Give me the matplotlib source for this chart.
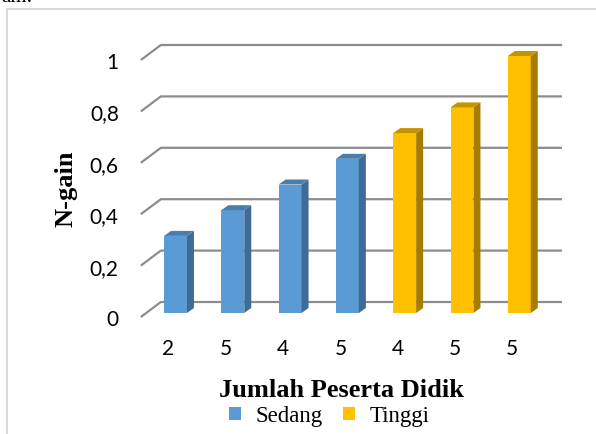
import matplotlib
matplotlib.use('Agg')
import matplotlib.pyplot as plt
from matplotlib.patches import Polygon, Patch
from matplotlib.lines import Line2D
import matplotlib.transforms as mtransforms

# ---- data ----
categories = ['2', '5', '4', '5', '4', '5', '5']
values = [0.3, 0.4, 0.5, 0.6, 0.7, 0.8, 1.0]
groups = ['Sedang', 'Sedang', 'Sedang', 'Sedang', 'Tinggi', 'Tinggi', 'Tinggi']
yticks = [0, 0.2, 0.4, 0.6, 0.8, 1.0]
yticklabels = ['0', '0,2', '0,4', '0,6', '0,8', '1']
series_names = ['Sedang', 'Tinggi']

# ---- style ----
front_col = {'Sedang': '#5B9BD5', 'Tinggi': '#FFC000'}
side_col = {'Sedang': '#3E6C97', 'Tinggi': '#A67D00'}
top_col = {'Sedang': '#4A7DAE', 'Tinggi': '#C39400'}
grid_col = '#8C8C8C'
SERIF = 'Liberation Serif'
SANS = 'Lato'

W, H = 596, 435
fig = plt.figure(figsize=(W / 100, H / 100), dpi=100)


def rect(x0, y0, x1, y1):
    return [x0 / W, 1 - y1 / H, (x1 - x0) / W, (y1 - y0) / H]


# axes = front plane of the bars
ax = fig.add_axes(rect(146.85, 57, 547.95, 314))
n = len(categories)
ax.set_xlim(-0.5, n - 0.5)
ax.set_ylim(0, 1)
ax.axis('off')

sx = ax.bbox.width / n      # pixels per category
sy = ax.bbox.height / 1.0   # pixels per unit value

# depth offsets in pixels (display, y up)
BAR_DX, BAR_DY = 7, 5
FRONT_DX, FRONT_DY = -6, -4
BACK_DX, BACK_DY = 14, 11

x0, x1 = ax.get_xlim()
# gridlines (floor diagonal + back wall)
for v in yticks:
    xs = [x0 + FRONT_DX / sx, x0 + BACK_DX / sx, x1 + BACK_DX / sx]
    ys = [v + FRONT_DY / sy, v + BACK_DY / sy, v + BACK_DY / sy]
    ax.plot(xs, ys, color=grid_col, lw=1.6, zorder=1, clip_on=False,
            solid_capstyle='butt')

# bars
w = 0.40
xpos = list(range(n))
ax.bar(xpos, values, width=w, color=[front_col[g] for g in groups],
       zorder=3, clip_on=False, linewidth=0)
ddx, ddy = BAR_DX / sx, BAR_DY / sy
for x, v, g in zip(xpos, values, groups):
    side = [(x + w / 2, 0), (x + w / 2 + ddx, ddy), (x + w / 2 + ddx, v + ddy), (x + w / 2, v)]
    top = [(x - w / 2, v), (x + w / 2, v), (x + w / 2 + ddx, v + ddy), (x - w / 2 + ddx, v + ddy)]
    ax.add_patch(Polygon(side, closed=True, facecolor=side_col[g], edgecolor='none',
                         zorder=3, clip_on=False))
    ax.add_patch(Polygon(top, closed=True, facecolor=top_col[g], edgecolor='none',
                         zorder=3, clip_on=False))

# value tick labels
tl = mtransforms.offset_copy(ax.transData, fig=fig, x=-28, y=-6, units='dots')
for v, lab in zip(yticks, yticklabels):
    ax.text(x0, v, lab, transform=tl, ha='right', va='center',
            fontsize=15, family=SANS, color='#000000', clip_on=False)

# category labels
cl = mtransforms.offset_copy(ax.transData, fig=fig, x=-7, y=-35, units='dots')
for x, lab in zip(xpos, categories):
    ax.text(x, 0, lab, transform=cl, ha='center', va='center',
            fontsize=15, family=SANS, color='#000000', clip_on=False)

# axis titles
fig.text(66 / W, 1 - 189 / H, 'N-gain', rotation=90, ha='center', va='center',
         fontsize=19, fontweight='bold', family=SERIF)
fig.text(341.5 / W, 1 - 397 / H, 'Jumlah Peserta Didik', ha='center', va='baseline',
         fontsize=19, fontweight='bold', family=SERIF)

# legend
handles = [Patch(facecolor=front_col[s], edgecolor='none') for s in series_names]
fig.legend(handles, series_names, loc='center', bbox_to_anchor=(329.5 / W, 1 - 417 / H),
           ncol=2, frameon=False, prop={'family': SERIF, 'size': 16.5},
           handlelength=0.5, handleheight=0.5, handletextpad=0.65,
           columnspacing=0.9, borderpad=0, borderaxespad=0)

# document frame and cut-off text
fig.add_artist(Line2D([7 / W, 7 / W], [0, 1 - 10 / H], transform=fig.transFigure,
                      color='#D9D9D9', lw=1.5))
fig.add_artist(Line2D([7 / W, 1], [1 - 10 / H, 1 - 10 / H], transform=fig.transFigure,
                      color='#D9D9D9', lw=1.5))
fig.text(1 / W, 1 - 2.5 / H, 'am:', ha='left', va='baseline', fontsize=15, family=SERIF)

fig.savefig('out.png', dpi=100)
